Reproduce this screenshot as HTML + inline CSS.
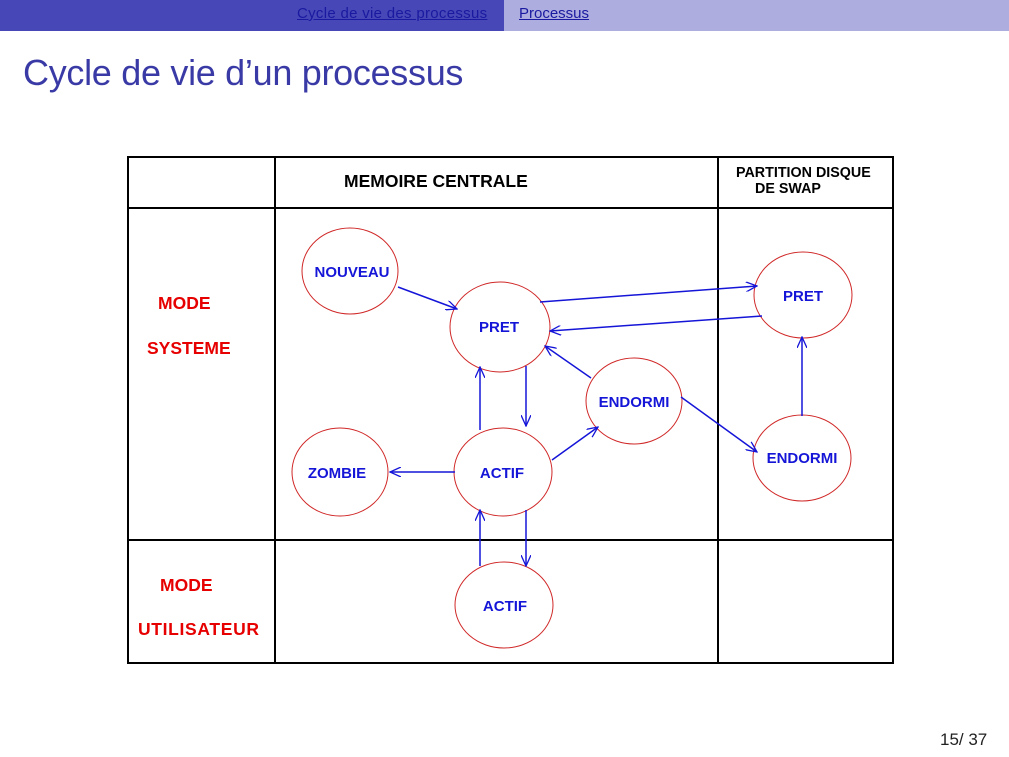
<!DOCTYPE html>
<html><head><meta charset="utf-8"><style>
body{margin:0;width:1009px;height:757px;overflow:hidden;background:#fff;font-family:"Liberation Sans",sans-serif;position:relative}
.bar1{position:absolute;left:0;top:0;width:504px;height:31px;background:#4747b7}
.bar2{position:absolute;left:504px;top:0;width:505px;height:31px;background:#adade0}
.nav{position:absolute;top:5px;font-size:15px;color:#1a1aa0;text-decoration:underline}
.title{position:absolute;left:23px;top:52px;font-size:36px;color:#3a3aa6;letter-spacing:-0.3px}
.pg{position:absolute;left:940px;top:730px;font-size:17px;color:#222}
</style></head><body>
<div class="bar1"></div><div class="bar2"></div>
<div class="nav" style="left:297px;letter-spacing:0.3px">Cycle de vie des processus</div>
<div class="nav" style="left:519px">Processus</div>
<div class="title">Cycle de vie d’un processus</div>
<svg width="1009" height="757" style="position:absolute;left:0;top:0" font-family="Liberation Sans, Arial, sans-serif" font-weight="bold">
<defs><marker id="a" markerWidth="12" markerHeight="10" refX="11" refY="5" orient="auto" markerUnits="userSpaceOnUse"><path d="M0,0 L11,5 L0,10" fill="none" stroke="#1515d8" stroke-width="1.3"/></marker></defs>
<g stroke="#000" stroke-width="2" fill="none">
<rect x="128" y="157" width="765" height="506"/>
<line x1="275" y1="157" x2="275" y2="663"/>
<line x1="718" y1="157" x2="718" y2="663"/>
<line x1="128" y1="208" x2="893" y2="208"/>
<line x1="128" y1="540" x2="893" y2="540"/>
</g>
<text x="344" y="187" font-size="17.5" fill="#000">MEMOIRE CENTRALE</text>
<text x="736" y="177" font-size="14.3" fill="#000">PARTITION DISQUE</text>
<text x="755" y="193" font-size="14.3" fill="#000">DE SWAP</text>
<g fill="#e60000" font-size="17.5">
<text x="158" y="309">MODE</text><text x="147" y="354">SYSTEME</text>
<text x="160" y="591">MODE</text><text x="138" y="635" textLength="121">UTILISATEUR</text>
</g>
<g fill="#fff" stroke="#d02828" stroke-width="1">
<ellipse cx="350" cy="271" rx="48" ry="43"/>
<ellipse cx="500" cy="327" rx="50" ry="45"/>
<ellipse cx="634" cy="401" rx="48" ry="43"/>
<ellipse cx="340" cy="472" rx="48" ry="44"/>
<ellipse cx="503" cy="472" rx="49" ry="44"/>
<ellipse cx="504" cy="605" rx="49" ry="43"/>
<ellipse cx="803" cy="295" rx="49" ry="43"/>
<ellipse cx="802" cy="458" rx="49" ry="43"/>
</g>
<g fill="#1515d8" font-size="15" text-anchor="middle">
<text x="352" y="277">NOUVEAU</text>
<text x="499" y="332">PRET</text>
<text x="634" y="407">ENDORMI</text>
<text x="337" y="478">ZOMBIE</text>
<text x="502" y="478">ACTIF</text>
<text x="505" y="611">ACTIF</text>
<text x="803" y="301">PRET</text>
<text x="802" y="463">ENDORMI</text>
</g>
<g stroke="#1515d8" stroke-width="1.5" marker-end="url(#a)" fill="none">
<line x1="398" y1="287" x2="457" y2="309"/>
<line x1="540" y1="302" x2="757" y2="286"/>
<line x1="762" y1="316" x2="550" y2="331"/>
<line x1="591" y1="378" x2="545" y2="346"/>
<line x1="526" y1="366" x2="526" y2="426"/>
<line x1="480" y1="430" x2="480" y2="367"/>
<line x1="552" y1="460" x2="598" y2="427"/>
<line x1="455" y1="472" x2="390" y2="472"/>
<line x1="681" y1="397" x2="757" y2="452"/>
<line x1="802" y1="416" x2="802" y2="337"/>
<line x1="526" y1="510" x2="526" y2="566"/>
<line x1="480" y1="566" x2="480" y2="510"/>
</g>
</svg>
<div class="pg">15/ 37</div>
</body></html>
